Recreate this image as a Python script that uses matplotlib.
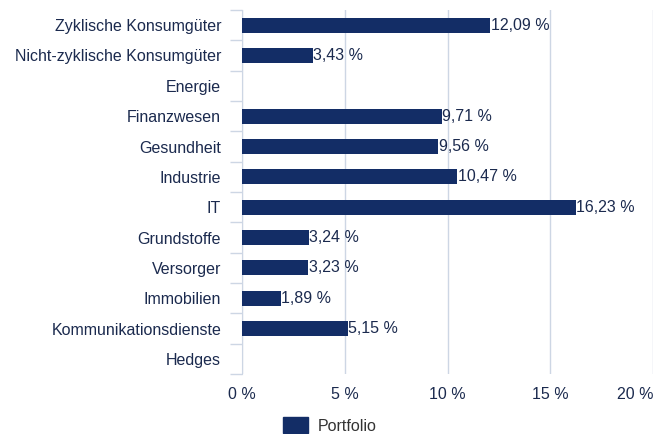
import numpy as np
import matplotlib.pyplot as plt
from matplotlib.patches import Patch

# --- data ---
categories = ['Zyklische Konsumgüter', 'Nicht-zyklische Konsumgüter', 'Energie',
              'Finanzwesen', 'Gesundheit', 'Industrie', 'IT', 'Grundstoffe',
              'Versorger', 'Immobilien', 'Kommunikationsdienste', 'Hedges']
portfolio = [12.09, 3.43, None, 9.71, 9.56, 10.47, 16.23, 3.24, 3.23, 1.89, 5.15, None]
x_ticks = [0, 5, 10, 15, 20]

BAR = '#132d66'
TXT = '#1b2a4e'
GRID = '#cdd6e4'
FS = 11.5

plt.rcParams['font.family'] = ['Liberation Sans', 'DejaVu Sans']

fig = plt.figure(figsize=(6.66, 4.34), dpi=100)
ax = fig.add_axes([0.3634, 0.138, 0.9805 - 0.3634, 0.977 - 0.138])

y = np.arange(len(categories))
vals = [v if v is not None else 0 for v in portfolio]
ax.barh(y, vals, height=0.5, color=BAR, zorder=3)

for yi, v in zip(y, portfolio):
    if v is None:
        continue
    ax.text(v + 0.03, yi, f'{v:.2f} %'.replace('.', ','), va='center', ha='left',
            fontsize=FS, color=TXT, zorder=4)

ax.set_xlim(0, 20)
ax.set_ylim(len(categories) - 0.5, -0.5)
ax.set_xticks(x_ticks)
ax.set_xticklabels([f'{t} %' for t in x_ticks], fontsize=FS, color=TXT)
ax.get_xticklabels()[-1].set_horizontalalignment('right')
ax.set_yticks(y)
ax.set_yticklabels(categories, fontsize=FS, color=TXT)
ax.set_yticks(np.arange(-0.5, len(categories)), minor=True)

ax.tick_params(axis='y', which='major', length=0, pad=15)
ax.tick_params(axis='y', which='minor', length=9, color=GRID, width=1)
ax.tick_params(axis='x', length=0, pad=9)

ax.grid(axis='x', color=GRID, linewidth=1, zorder=0)
for s in ['top', 'right', 'bottom']:
    ax.spines[s].set_visible(False)
ax.spines['left'].set_color(GRID)

fig.legend(handles=[Patch(color=BAR, label='Portfolio')], loc='center',
           bbox_to_anchor=(0.495, 0.0195), frameon=False, fontsize=FS,
           handlelength=1.6, handleheight=1.1, handletextpad=0.6,
           labelcolor='#333333')

fig.savefig('out.png', dpi=100)
